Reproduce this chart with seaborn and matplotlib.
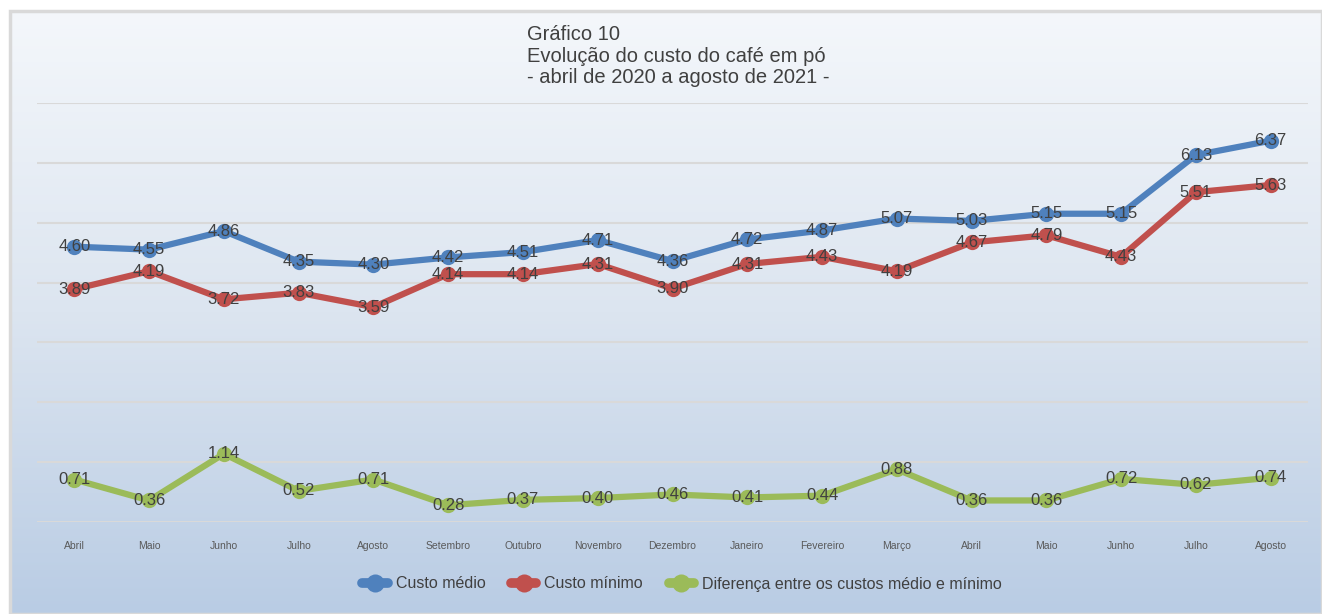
import numpy as np
import pandas as pd
import matplotlib.pyplot as plt
import seaborn as sns
from matplotlib.patches import Rectangle
from matplotlib.colors import LinearSegmentedColormap

# Dados do gráfico (abril 2020 a agosto 2021)
meses = ["Abril", "Maio", "Junho", "Julho", "Agosto", "Setembro", "Outubro",
         "Novembro", "Dezembro", "Janeiro", "Fevereiro", "Março", "Abril",
         "Maio", "Junho", "Julho", "Agosto"]
custo_medio = [4.60, 4.55, 4.86, 4.35, 4.30, 4.42, 4.51, 4.71, 4.36, 4.72,
               4.87, 5.07, 5.03, 5.15, 5.15, 6.13, 6.37]
custo_minimo = [3.89, 4.19, 3.72, 3.83, 3.59, 4.14, 4.14, 4.31, 3.90, 4.31,
                4.43, 4.19, 4.67, 4.79, 4.43, 5.51, 5.63]
diferenca = [0.71, 0.36, 1.14, 0.52, 0.71, 0.28, 0.37, 0.40, 0.46, 0.41,
             0.44, 0.88, 0.36, 0.36, 0.72, 0.62, 0.74]

series = {
    "Custo médio": custo_medio,
    "Custo mínimo": custo_minimo,
    "Diferença entre os custos médio e mínimo": diferenca,
}
cores = ["#4F81BD", "#C0504D", "#9BBB59"]

df = pd.concat(
    [pd.DataFrame({"pos": range(len(meses)), "valor": v, "serie": nome})
     for nome, v in series.items()],
    ignore_index=True,
)

sns.set_style("white")
plt.rcParams["font.family"] = ["Liberation Sans", "DejaVu Sans"]

fig = plt.figure(figsize=(13.22, 6.14), dpi=100)

# Fundo com degradê
bg = fig.add_axes([10 / 1322, 0, 1 - 10 / 1322, 603 / 614], zorder=-5)
cmap = LinearSegmentedColormap.from_list("fundo", ["#F4F7FB", "#DCE5F0", "#B9CCE4"])
bg.imshow(np.linspace(0, 1, 256).reshape(-1, 1), aspect="auto", cmap=cmap,
          extent=[0, 1, 0, 1])
bg.add_patch(Rectangle((0, 0), 1, 1, transform=bg.transAxes, fill=False,
                       edgecolor="#D9D9D9", lw=2.5, clip_on=False))
bg.axis("off")

ax = fig.add_axes([37 / 1322, 92 / 614, 1271 / 1322, 419 / 614])
ax.set_facecolor("none")

sns.lineplot(data=df, x="pos", y="valor", hue="serie", palette=cores,
             marker="o", markersize=11, markeredgewidth=0, linewidth=4.5,
             ax=ax, legend=True, zorder=3)

for nome, v in series.items():
    for i, val in enumerate(v):
        ax.text(i, val, f"{val:.2f}", ha="center", va="center",
                fontsize=12, color="#404040", zorder=5)

ax.set_xlim(-0.5, len(meses) - 0.5)
ax.set_ylim(0, 7)
ax.set_yticks(range(0, 8))
ax.set_yticklabels([])
ax.set_xticks(range(len(meses)))
ax.set_xticklabels(meses, fontsize=7.5, color="#595959")
ax.tick_params(axis="both", length=0)
ax.tick_params(axis="x", pad=14)
ax.grid(axis="y", color="#D9D9D9", lw=1.5)
ax.set_axisbelow(True)
ax.set_xlabel("")
ax.set_ylabel("")
for s in ax.spines.values():
    s.set_visible(False)

handles, labels = ax.get_legend_handles_labels()
ax.get_legend().remove()
leg = fig.legend(handles, labels, loc="center", bbox_to_anchor=(682 / 1322, 30 / 614),
                 ncol=3, frameon=False, fontsize=11.5, labelcolor="#404040",
                 handlelength=1.6, columnspacing=1.6, handletextpad=0.5)
for h in leg.legend_handles:
    h.set_linewidth(7)
    h.set_markersize(13)

fig.text(527 / 1322, 1 - 25 / 614,
         "Gráfico 10\nEvolução do custo do café em pó\n- abril de 2020 a agosto de 2021 -",
         ha="left", va="top", fontsize=14.5, color="#404040", linespacing=1.17)

fig.savefig("out.png", dpi=100)
